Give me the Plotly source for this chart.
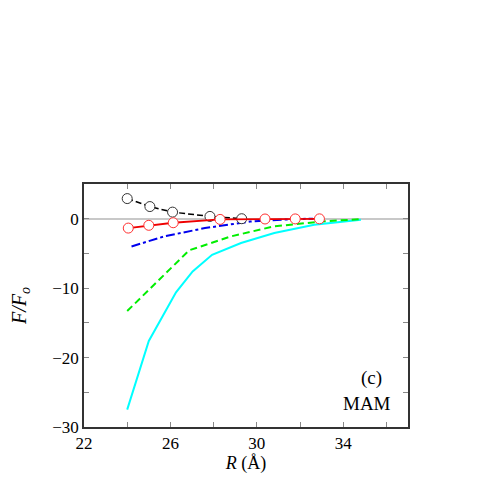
import plotly.graph_objects as go

# F/Fo versus R for the MAM panel (c)
R_black = [24.0, 25.05, 26.1, 27.83, 29.3]
F_black = [2.9, 1.75, 0.95, 0.33, 0.0]

R_red = [24.05, 25.0, 26.13, 28.3, 30.38, 31.78, 32.9]
F_red = [-1.35, -0.95, -0.58, -0.1, -0.04, -0.03, -0.02]

R_blue = [24.2, 25.7, 27.6, 29.7, 31.7, 32.6]
F_blue = [-4.0, -2.55, -1.35, -0.4, -0.06, 0.0]

R_green = [24.0, 26.87, 28.8, 30.8, 33.0, 34.9]
F_green = [-13.3, -4.55, -2.55, -1.1, -0.4, -0.05]

R_cyan = [24.0, 25.0, 26.26, 27.03, 27.93, 29.27, 30.81, 32.66, 34.82]
F_cyan = [-27.5, -17.6, -10.6, -7.6, -5.2, -3.5, -2.06, -0.86, -0.14]

font = "Liberation Serif"

fig = go.Figure()
fig.add_trace(go.Scatter(x=R_cyan, y=F_cyan, mode="lines",
                         line=dict(color="#00ffff", width=2)))
fig.add_trace(go.Scatter(x=R_green, y=F_green, mode="lines",
                         line=dict(color="#00ee00", width=2, dash="7px,4px")))
fig.add_trace(go.Scatter(x=R_blue, y=F_blue, mode="lines",
                         line=dict(color="#0000ee", width=2, dash="dashdot")))
fig.add_trace(go.Scatter(x=R_black, y=F_black, mode="lines+markers",
                         line=dict(color="black", width=1.5, dash="6px,3px"),
                         marker=dict(symbol="circle", size=10, color="white",
                                     line=dict(color="#333333", width=1))))
fig.add_trace(go.Scatter(x=R_red, y=F_red, mode="lines+markers",
                         line=dict(color="#ee0000", width=1.8),
                         marker=dict(symbol="circle", size=10, color="white",
                                     line=dict(color="#ff3030", width=1))))

axis_common = dict(
    showline=True, linecolor="#333333", linewidth=1.5, mirror="ticks",
    ticks="inside", ticklen=5, tickcolor="#888888", showgrid=False,
    automargin=False,
    tickfont=dict(family=font, size=17, color="black"),
)

fig.update_xaxes(range=[22, 37], tickvals=[22, 26, 30, 34], zeroline=False,
                 minor=dict(ticks="inside", dtick=2, ticklen=5, tickcolor="#888888"),
                 title=dict(text="<i>R</i> (Å)", font=dict(family=font, size=18, color="black"),
                            standoff=0),
                 **axis_common)
fig.update_yaxes(range=[-30, 5], tickvals=[-30, -20, -10, 0], zeroline=True,
                 zerolinecolor="#c8c8c8", zerolinewidth=1.5,
                 minor=dict(ticks="inside", dtick=5, ticklen=5, tickcolor="#888888"),
                 title=dict(text="<i>F/F</i><sub><i>o</i></sub>",
                            font=dict(family=font, size=20, color="black"), standoff=24),
                 **axis_common)

fig.add_annotation(x=35.3, y=-23.0, text="(c)", showarrow=False,
                   font=dict(family=font, size=19, color="black"))
fig.add_annotation(x=35.1, y=-26.6, text="MAM", showarrow=False,
                   font=dict(family=font, size=19, color="black"))

fig.update_layout(
    width=491, height=491, showlegend=False,
    plot_bgcolor="white", paper_bgcolor="white",
    font=dict(family=font),
    margin=dict(l=76, r=91, t=176, b=72),
)

fig.write_html("out.html")
